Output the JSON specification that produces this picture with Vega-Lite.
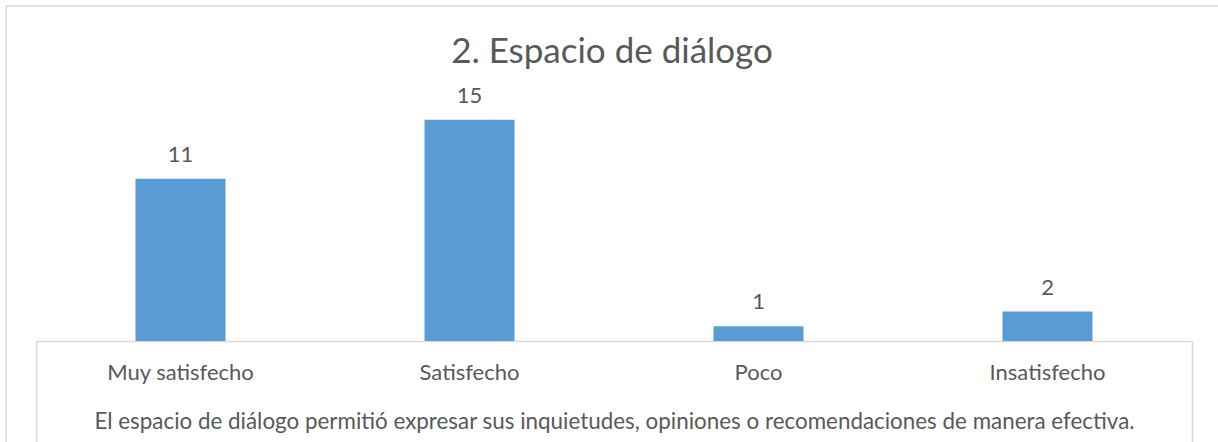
{
  "$schema": "https://vega.github.io/schema/vega-lite/v6.json",
  "width": 1212,
  "height": 436,
  "autosize": {"type": "none"},
  "padding": {"left": 6, "top": 6, "right": 0, "bottom": 0},
  "background": "white",
  "title": {
    "text": "2. Espacio de diálogo",
    "font": "Lato",
    "fontSize": 35,
    "fontWeight": "normal",
    "color": "#595959",
    "anchor": "middle",
    "frame": "group",
    "baseline": "alphabetic",
    "offset": -92
  },
  "layer": [
    {
      "data": {
        "values": [
          {"cat": "Muy satisfecho", "n": 11},
          {"cat": "Satisfecho", "n": 15},
          {"cat": "Poco", "n": 1},
          {"cat": "Insatisfecho", "n": 2}
        ]
      },
      "encoding": {
        "x": {
          "field": "cat",
          "type": "nominal",
          "sort": null,
          "scale": {"range": [30, 1186], "paddingInner": 0.6886, "paddingOuter": 0.3443},
          "axis": {
            "orient": "bottom",
            "offset": -101,
            "title": "El espacio de diálogo permitió expresar sus inquietudes, opiniones o recomendaciones de manera efectiva.",
            "titleFont": "Lato",
            "titleFontSize": 22.4,
            "titleFontWeight": "normal",
            "titleColor": "#595959",
            "titleX": 608,
            "titleY": 87,
            "titleBaseline": "alphabetic",
            "titleAlign": "center",
            "labelAngle": 0,
            "labelFont": "Lato",
            "labelFontSize": 22,
            "labelColor": "#595959",
            "labelBaseline": "alphabetic",
            "labelPadding": 38,
            "labelOverlap": false,
            "domainColor": "#D9D9D9",
            "domainWidth": 1.5,
            "ticks": false,
            "tickSize": 0,
            "grid": false
          }
        },
        "y": {
          "field": "n",
          "type": "quantitative",
          "scale": {"domain": [0, 16], "range": [335, 99], "nice": false},
          "axis": null
        }
      },
      "layer": [
        {"mark": {"type": "bar", "color": "#5B9BD5"}},
        {
          "mark": {"type": "text", "font": "Lato", "fontSize": 22, "color": "#595959", "baseline": "alphabetic", "dy": -17},
          "encoding": {"text": {"field": "n", "type": "quantitative"}}
        }
      ]
    },
    {
      "data": {"values": [{"edge": 0}, {"edge": 1}]},
      "mark": {"type": "point", "opacity": 0},
      "encoding": {
        "x": {
          "field": "edge",
          "type": "quantitative",
          "scale": {"domain": [0, 1], "range": [30, 1186], "nice": false, "zero": false},
          "axis": {
            "orient": "bottom",
            "offset": -101,
            "values": [0, 1],
            "labels": false,
            "domain": false,
            "grid": false,
            "title": null,
            "ticks": true,
            "tickSize": 101,
            "tickColor": "#D9D9D9",
            "tickWidth": 1.5
          }
        }
      }
    }
  ],
  "resolve": {"scale": {"x": "independent"}, "axis": {"x": "independent"}},
  "config": {
    "view": {"stroke": "#D9D9D9", "strokeWidth": 1.5, "strokeDash": [1212, 1648, 436]}
  }
}
